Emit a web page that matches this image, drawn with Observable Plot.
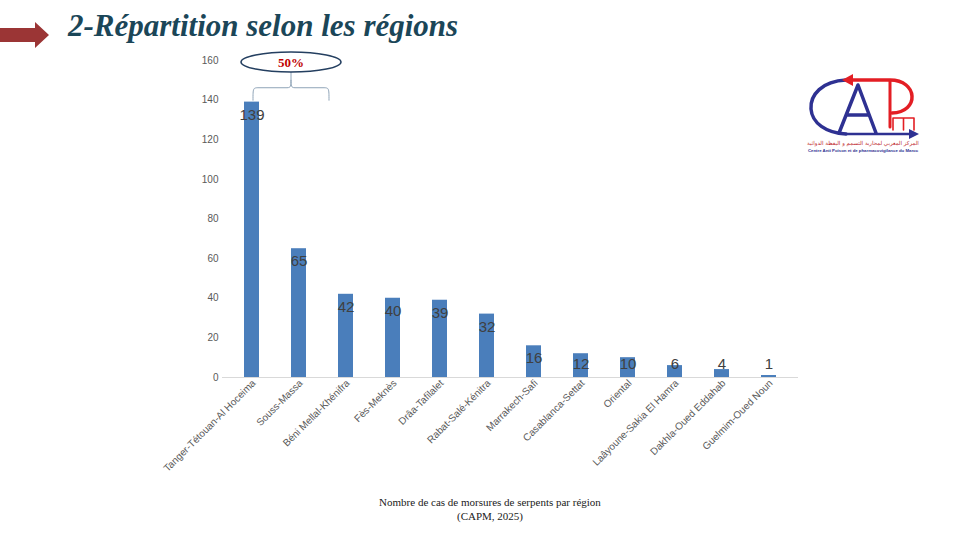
<!DOCTYPE html>
<html lang="fr">
<head>
<meta charset="utf-8">
<script src="https://cdn.jsdelivr.net/npm/d3@7"></script>
<script src="https://cdn.jsdelivr.net/npm/@observablehq/plot@0.6"></script>
<style>
  html, body { margin: 0; padding: 0; background: #ffffff; }
  #page { position: relative; width: 960px; height: 540px; overflow: hidden; background: #ffffff; }
  #chart { position: absolute; left: 0; top: 0; }
  #title {
    position: absolute; left: 68px; top: 8px;
    font-family: "Liberation Serif", "DejaVu Serif", serif; font-style: italic; font-weight: bold;
    font-size: 31px; color: #1b4658; white-space: nowrap;
  }
  #caption {
    position: absolute; left: 290px; width: 400px; top: 495px; text-align: center;
    font-family: "Liberation Serif", "DejaVu Serif", serif; font-size: 11px; line-height: 14px; color: #1a1a1a;
  }
  #arrow, #logo { position: absolute; left: 0; top: 0; }
</style>
</head>
<body>
<div id="page">
  <svg id="arrow" width="60" height="60">
    <polygon points="0,28 35,28 35,22 49,35 35,48 35,42 0,42" fill="#9b3535"/>
  </svg>
  <div id="title">2-Répartition selon les régions</div>
  <div id="chart"></div>
  <svg id="logo" width="960" height="170">
    <g fill="none" stroke-linecap="round" stroke-linejoin="round">
      <!-- C -->
      <path d="M846 80 C 822 81, 810 95, 811 109 C 812 123, 826 133, 846 134" stroke="#2e3192" stroke-width="3.5"/>
      <!-- lower arrow -->
      <path d="M846 134 L 910 134" stroke="#2e3192" stroke-width="2.5"/>
      <!-- A -->
      <path d="M839 133 L 858 85 L 876 133 M 848 115 L 869 115" stroke="#2e3192" stroke-width="3.5"/>
      <!-- upper arrow and P -->
      <path d="M850 80 L 890 80 C 918 80, 920 112, 892 113" stroke="#e31e24" stroke-width="3.5"/>
      <path d="M890 81 L 890 127" stroke="#e31e24" stroke-width="3"/>
      <!-- m -->
      <path d="M893 130 L 893 118 L 914 118 L 914 130 M 903.5 118 L 903.5 130" stroke="#e31e24" stroke-width="1.6"/>
    </g>
    <polygon points="842,80 853,74 853,86" fill="#e31e24"/>
    <polygon points="919,134 909,129 909,139" fill="#2e3192"/>
    <text x="863" y="145" text-anchor="middle" font-family="DejaVu Sans" font-size="5.5" fill="#c0282e">المركز المغربي لمحاربة التسمم و اليقظة الدوائية</text>
    <text x="863" y="151.5" text-anchor="middle" font-family="Liberation Sans" font-size="4.3" font-weight="bold" fill="#2e3192">Centre Anti Poison et de pharmacovigilance du Maroc</text>
  </svg>
  <div id="caption">Nombre de cas de morsures de serpents par région<br>(CAPM, 2025)</div>
</div>
<script>
// Snakebite cases per region (CAPM, 2025)
const regions = [
  "Tanger-Tétouan-Al Hoceima",
  "Souss-Massa",
  "Béni Mellal-Khénifra",
  "Fès-Meknès",
  "Drâa-Tafilalet",
  "Rabat-Salé-Kénitra",
  "Marrakech-Safi",
  "Casablanca-Settat",
  "Oriental",
  "Laâyoune-Sakia El Hamra",
  "Dakhla-Oued Eddahab",
  "Guelmim-Oued Noun"
];
const cases = [139, 65, 42, 40, 39, 32, 16, 12, 10, 6, 4, 1];
const yTicks = [0, 20, 40, 60, 80, 100, 120, 140, 160];
const shareLabel = "50%";

const data = regions.map((region, i) => ({region, cases: cases[i]}));

const plot = Plot.plot({
  width: 960,
  height: 540,
  marginLeft: 222,
  marginRight: 162,
  marginTop: 60,
  marginBottom: 163,
  style: {background: "transparent", fontFamily: "Liberation Sans, Arial, sans-serif", fontSize: "10px", color: "#595959"},
  x: {domain: regions, paddingInner: 0.68, paddingOuter: 0.43, label: null},
  y: {domain: [0, 160], label: null},
  marks: [
    Plot.axisY({ticks: yTicks, tickSize: 0, tickPadding: 4, label: null}),
    Plot.axisX({tickSize: 0, tickPadding: 4, tickRotate: -45, dx: 2, label: null}),
    Plot.ruleY([0], {stroke: "#d9d9d9", strokeWidth: 1}),
    Plot.barY(data, {x: "region", y: "cases", fill: "#4a7ebb"}),
    // value labels sit just inside the bar top, or just above short bars
    Plot.text(data, {
      x: "region",
      y: d => Math.max(d.cases - 6.5, 6.5),
      text: d => String(d.cases),
      fontSize: 15,
      fill: "#404040"
    })
  ]
});
document.getElementById("chart").appendChild(plot);

// Brace and callout over the leading region
const xs = plot.scale("x");
const ys = plot.scale("y");
const svg = d3.select(plot);
const bx0 = xs.apply(regions[0]) + 9;
const bx1 = xs.apply(regions[2]) - 9;
const bmid = (bx0 + bx1) / 2;
const yTop = ys.apply(146);
const yEnd = ys.apply(139.5);
const g = svg.append("g");
g.append("path")
  .attr("d", `M${bx0},${yEnd} C${bx0},${yTop} ${bx0},${yTop} ${bx0 + 6},${yTop} L${bmid - 4},${yTop} C${bmid},${yTop} ${bmid},${yTop - 2} ${bmid},${yTop - 8} C${bmid},${yTop - 2} ${bmid},${yTop} ${bmid + 4},${yTop} L${bx1 - 6},${yTop} C${bx1},${yTop} ${bx1},${yTop} ${bx1},${yEnd}`)
  .attr("fill", "none").attr("stroke", "#8fa4b8").attr("stroke-width", 1);
g.append("line")
  .attr("x1", bmid).attr("x2", bmid).attr("y1", yTop - 8).attr("y2", ys.apply(154))
  .attr("stroke", "#8fa4b8").attr("stroke-width", 1);
g.append("ellipse")
  .attr("cx", bmid).attr("cy", ys.apply(159)).attr("rx", 50).attr("ry", 10)
  .attr("fill", "#ffffff").attr("stroke", "#243f60").attr("stroke-width", 1.5);
g.append("text")
  .attr("x", bmid).attr("y", ys.apply(159)).attr("dy", "0.36em")
  .attr("text-anchor", "middle")
  .attr("font-family", "Liberation Serif, serif").attr("font-weight", "bold").attr("font-size", 13)
  .attr("fill", "#c00000")
  .text(shareLabel);
</script>
</body>
</html>
